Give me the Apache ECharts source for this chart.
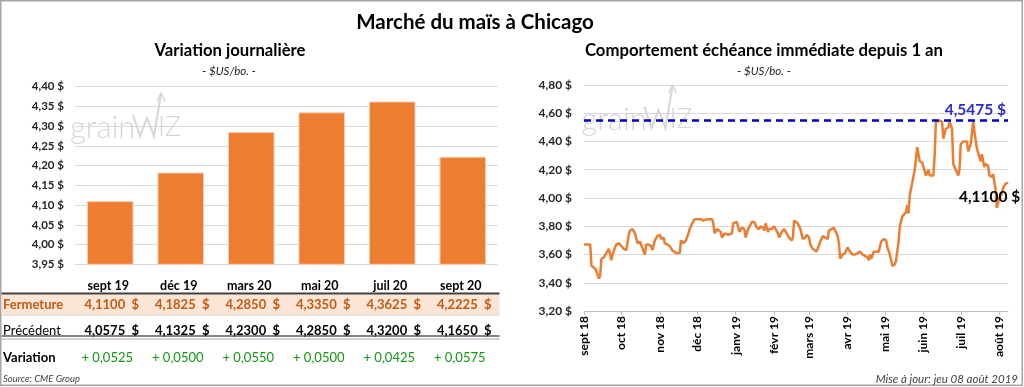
<!DOCTYPE html>
<html><head><meta charset="utf-8">
<script src="https://cdn.jsdelivr.net/npm/echarts@6/dist/echarts.min.js"></script>
<style>html,body{margin:0;padding:0;background:#fff}#c{width:1024px;height:387px}</style>
</head><body><div id="c"></div>
<script>
// ---------- DATA ----------
const contracts = ['sept 19', 'déc 19', 'mars 20', 'mai 20', 'juil 20', 'sept 20'];
const closeValues = [4.1100, 4.1825, 4.2850, 4.3350, 4.3625, 4.2225];
const previousValues = [4.0575, 4.1325, 4.2300, 4.2850, 4.3200, 4.1650];
const changeValues = [0.0525, 0.0500, 0.0550, 0.0500, 0.0425, 0.0575];
const rowLabels = ['Fermeture', 'Précédent', 'Variation'];
const barAxis = { min: 3.95, max: 4.40, interval: 0.05 };
const lineAxis = { min: 3.20, max: 4.80, interval: 0.20 };

const historyDates = [
 '2018-09-01','2018-09-06','2018-09-07','2018-09-08','2018-09-10','2018-09-11','2018-09-13','2018-09-14','2018-09-15','2018-09-17',
 '2018-09-19','2018-09-21','2018-09-22','2018-09-23','2018-09-24','2018-09-26','2018-09-27','2018-09-29','2018-10-01','2018-10-03',
 '2018-10-05','2018-10-07','2018-10-08','2018-10-10','2018-10-12','2018-10-14','2018-10-16','2018-10-17','2018-10-20','2018-10-21',
 '2018-10-23','2018-10-25','2018-10-26','2018-10-28','2018-10-30','2018-11-01','2018-11-02','2018-11-04','2018-11-05','2018-11-07',
 '2018-11-09','2018-11-11','2018-11-14','2018-11-17','2018-11-18','2018-11-20','2018-11-22','2018-11-24','2018-11-25','2018-11-27',
 '2018-11-29','2018-11-30','2018-12-02','2018-12-04','2018-12-06','2018-12-09','2018-12-11','2018-12-13','2018-12-14','2018-12-15',
 '2018-12-17','2018-12-18','2018-12-20','2018-12-21','2018-12-23','2018-12-26','2018-12-29','2018-12-30','2019-01-02','2019-01-03',
 '2019-01-04','2019-01-06','2019-01-08','2019-01-09','2019-01-11','2019-01-14','2019-01-16','2019-01-18','2019-01-20','2019-01-21',
 '2019-01-23','2019-01-24','2019-01-25','2019-01-27','2019-01-28','2019-01-30','2019-02-01','2019-02-04','2019-02-05','2019-02-07',
 '2019-02-09','2019-02-11','2019-02-13','2019-02-15','2019-02-16','2019-02-17','2019-02-18','2019-02-20','2019-02-22','2019-02-24',
 '2019-02-26','2019-02-27','2019-03-01','2019-03-02','2019-03-04','2019-03-07','2019-03-08','2019-03-10','2019-03-12','2019-03-14',
 '2019-03-16','2019-03-17','2019-03-19','2019-03-21','2019-03-22','2019-03-24','2019-03-25','2019-03-26','2019-03-28','2019-03-30',
 '2019-03-31','2019-04-01','2019-04-03','2019-04-05','2019-04-07','2019-04-08','2019-04-09','2019-04-11','2019-04-13','2019-04-15',
 '2019-04-17','2019-04-18','2019-04-19','2019-04-20','2019-04-22','2019-04-24','2019-04-26','2019-04-28','2019-04-30','2019-05-02',
 '2019-05-03','2019-05-04','2019-05-05','2019-05-07','2019-05-09','2019-05-10','2019-05-12','2019-05-13','2019-05-15','2019-05-18',
 '2019-05-19','2019-05-20','2019-05-21','2019-05-23','2019-05-25','2019-05-26','2019-05-27','2019-05-29','2019-05-31','2019-06-01',
 '2019-06-03','2019-06-05','2019-06-06','2019-06-09','2019-06-10','2019-06-11','2019-06-14','2019-06-16','2019-06-17','2019-06-19',
 '2019-06-21','2019-06-22','2019-06-24','2019-06-25','2019-06-27','2019-06-29','2019-06-30','2019-07-01','2019-07-03','2019-07-06',
 '2019-07-07','2019-07-09','2019-07-11','2019-07-12','2019-07-14','2019-07-15','2019-07-17','2019-07-18','2019-07-20','2019-07-21',
 '2019-07-23','2019-07-24','2019-07-26','2019-07-27','2019-07-29','2019-07-30','2019-08-01','2019-08-03','2019-08-04','2019-08-06',
 '2019-08-08'
];
const historyValues = [
 3.67,3.67,3.52,3.51,3.50,3.48,3.43,3.45,3.57,3.58,
 3.61,3.64,3.63,3.56,3.60,3.65,3.67,3.68,3.66,3.64,
 3.63,3.74,3.77,3.78,3.75,3.68,3.69,3.70,3.60,3.67,
 3.67,3.66,3.63,3.70,3.73,3.74,3.71,3.72,3.68,3.67,
 3.66,3.63,3.61,3.61,3.70,3.68,3.70,3.75,3.78,3.82,
 3.85,3.84,3.85,3.85,3.84,3.85,3.85,3.85,3.82,3.75,
 3.78,3.78,3.76,3.72,3.75,3.74,3.75,3.82,3.83,3.82,
 3.76,3.79,3.78,3.72,3.78,3.83,3.83,3.79,3.78,3.80,
 3.79,3.77,3.82,3.76,3.78,3.78,3.80,3.75,3.72,3.76,
 3.78,3.75,3.72,3.70,3.72,3.84,3.85,3.82,3.78,3.71,
 3.72,3.74,3.72,3.67,3.64,3.62,3.63,3.69,3.73,3.72,
 3.71,3.77,3.78,3.79,3.78,3.73,3.68,3.57,3.60,3.61,
 3.63,3.65,3.62,3.60,3.60,3.59,3.61,3.62,3.60,3.59,
 3.58,3.56,3.60,3.57,3.62,3.62,3.62,3.69,3.71,3.70,
 3.65,3.66,3.60,3.52,3.53,3.56,3.69,3.80,3.87,3.90,
 3.95,3.89,4.02,4.11,4.20,4.21,4.36,4.26,4.25,4.24,
 4.16,4.20,4.16,4.16,4.30,4.54,4.5475,4.54,4.42,4.49,
 4.50,4.54,4.49,4.24,4.20,4.16,4.20,4.38,4.40,4.40,
 4.33,4.38,4.54,4.47,4.35,4.36,4.26,4.31,4.22,4.24,
 4.23,4.16,4.15,4.17,4.06,3.93,4.00,4.03,4.07,4.10,
 4.11
];
const yearHigh = 4.5475;
const lastClose = 4.1100;
const axisStart = '2018-09-01';
const axisEnd = '2019-08-08';
const monthTickDates = ['2018-09-01','2018-10-01','2018-11-01','2018-12-01','2019-01-01','2019-02-01',
  '2019-03-01','2019-04-01','2019-05-01','2019-06-01','2019-07-01','2019-08-01'];
const monthTickLabels = ['sept 18','oct 18','nov 18','déc 18','janv 19','févr 19',
  'mars 19','avr 19','mai 19','juin 19','juil 19','août 19'];

// ---------- HELPERS ----------
const FONT = 'Lato';
const fmt2 = v => v.toFixed(2).replace('.', ',') + ' $';
const fmt4 = v => v.toFixed(4).replace('.', ',');
const ts = s => echarts.number.parseDate(s).getTime();
const monthTs = monthTickDates.map(ts);

const chart = echarts.init(document.getElementById('c'), null, { renderer: 'canvas' });

const option = {
  animation: false,
  backgroundColor: '#ffffff',
  textStyle: { fontFamily: FONT },
  grid: [
    { left: 75, right: 526, top: 86.7, bottom: 122.7 },
    { left: 584, right: 16, top: 85, bottom: 76 }
  ],
  xAxis: [
    { type: 'category', gridIndex: 0, data: contracts,
      axisLine: { show: false }, axisTick: { show: false }, axisLabel: { show: false } },
    { type: 'value', gridIndex: 1, min: ts(axisStart), max: ts(axisEnd),
      axisLine: { show: true, onZero: false, lineStyle: { color: '#bfbfbf', width: 1 } },
      axisTick: { show: true, length: 4, lineStyle: { color: '#bfbfbf' }, customValues: monthTs },
      splitLine: { show: false },
      axisLabel: { show: true, rotate: 90, margin: 5, customValues: monthTs,
        fontFamily: FONT, fontWeight: 'bold', fontSize: 12, color: '#000',
        formatter: function (val) {
          let best = 0, bd = Infinity;
          monthTs.forEach((t, i) => { const d = Math.abs(t - val); if (d < bd) { bd = d; best = i; } });
          return monthTickLabels[best];
        } } }
  ],
  yAxis: [
    { type: 'value', gridIndex: 0, min: barAxis.min, max: barAxis.max, interval: barAxis.interval,
      axisLine: { show: false }, axisTick: { show: false },
      splitLine: { lineStyle: { color: '#d9d9d9', width: 1 } },
      axisLabel: { margin: 11, fontFamily: FONT, fontWeight: 'bold', fontSize: 11.5, color: '#262626', formatter: fmt2 } },
    { type: 'value', gridIndex: 1, min: lineAxis.min, max: lineAxis.max, interval: lineAxis.interval,
      axisLine: { show: false }, axisTick: { show: false },
      splitLine: { lineStyle: { color: '#d9d9d9', width: 1 } },
      axisLabel: { margin: 12, fontFamily: FONT, fontWeight: 'bold', fontSize: 12, color: '#262626', formatter: fmt2 } }
  ],
  series: [
    { type: 'bar', xAxisIndex: 0, yAxisIndex: 0, data: closeValues, barCategoryGap: '34%',
      itemStyle: { color: '#ED7D31', borderColor: '#F8CBAD', borderWidth: 1 }, silent: true },
    { type: 'line', xAxisIndex: 1, yAxisIndex: 1,
      data: historyDates.map((d, i) => [ts(d), historyValues[i]]),
      showSymbol: false, symbol: 'none', smooth: false,
      lineStyle: { color: '#ED7D31', width: 2.5 }, itemStyle: { color: '#ED7D31' },
      endLabel: { show: true, formatter: fmt4(lastClose) + ' $', distance: 0, offset: [-49, 15],
        fontFamily: FONT, fontWeight: 'bold', fontSize: 15.5, color: '#000' },
      markLine: { silent: true, symbol: 'none', animation: false,
        data: [{ yAxis: yearHigh }],
        lineStyle: { color: '#0000CC', width: 2.5, type: [7, 5] },
        label: { show: true, position: 'insideEndTop', formatter: fmt4(yearHigh) + ' $', distance: 2,
          fontFamily: FONT, fontWeight: 'bold', fontSize: 15.5, color: '#2B2BD0' } },
      z: 3 }
  ]
};
chart.setOption(option);

// ---------- TABLE & TEXT (graphic) ----------
const xs = contracts.map((c, i) => chart.convertToPixel({ xAxisIndex: 0 }, i));
const g = [];
const txt = (x, y, text, st) => g.push({ type: 'text', x, y, silent: true,
  style: Object.assign({ text, fontFamily: FONT, fontSize: 12, fill: '#000', align: 'center', verticalAlign: 'middle' }, st) });
const line = (x1, y1, x2, y2, stroke, w) => g.push({ type: 'line', silent: true,
  shape: { x1, y1, x2, y2 }, style: { stroke, lineWidth: w } });

// frame
g.push({ type: 'rect', silent: true, shape: { x: 0.75, y: 0.75, width: 1021.5, height: 384.5 },
  style: { fill: 'none', stroke: '#a6a6a6', lineWidth: 1.5 } });

// titles
txt(475, 22, 'Marché du maïs à Chicago', { fontSize: 20.5, fontWeight: 'bold' });
txt(230, 51, 'Variation journalière', { fontSize: 16.7, fontWeight: 'bold' });
txt(229, 71, '- $US/bo. -', { fontSize: 11.5, fontStyle: 'italic', fill: '#262626' });
txt(764, 51, 'Comportement échéance immédiate depuis 1 an', { fontSize: 16.7, fontWeight: 'bold' });
txt(764, 71, '- $US/bo. -', { fontSize: 11.5, fontStyle: 'italic', fill: '#262626' });

// watermarks
[[0, 0], [511.5, -8]].forEach(([dx, dy]) => {
  txt(70 + dx, 128 + dy, 'grain', { fontSize: 31, fill: '#d6d6d6', align: 'left', fontWeight: 300 });
  txt(158 + dx, 127 + dy, 'IZ', { fontSize: 27, fill: '#d6d6d6', align: 'left', fontWeight: 300 });
  g.push({ type: 'polyline', silent: true,
    shape: { points: [[133 + dx, 115 + dy], [140 + dx, 136 + dy], [147 + dx, 118 + dy], [154 + dx, 136 + dy], [161 + dx, 94 + dy]] },
    style: { stroke: '#d6d6d6', lineWidth: 2, fill: 'none' } });
  g.push({ type: 'polyline', silent: true,
    shape: { points: [[157 + dx, 101 + dy], [161 + dx, 93 + dy], [165 + dx, 101 + dy]] },
    style: { stroke: '#d6d6d6', lineWidth: 1.5, fill: 'none' } });
});

// table
g.push({ type: 'rect', silent: true, shape: { x: 1.5, y: 294.5, width: 498, height: 20.5 }, style: { fill: '#FBE5D6' } });
line(1.5, 293.5, 499.5, 293.5, '#404040', 2);
line(1.5, 315.3, 499.5, 315.3, '#d9d9d9', 1);
line(1.5, 336, 499.5, 336, '#595959', 1.5);
line(1.5, 339, 499.5, 339, '#a6a6a6', 1);

contracts.forEach((c, i) => {
  txt(xs[i] - 2, 286, c, { fontWeight: 'bold', fontSize: 12.5 });
  txt(xs[i] + 1.5, 305, fmt4(closeValues[i]) + '  $', { fontWeight: 'bold', fontSize: 13, fill: '#C55A11' });
  txt(xs[i] + 1.5, 331, fmt4(previousValues[i]) + '  $', { fontWeight: 'bold', fontSize: 13 });
  txt(xs[i] - 3, 358, '+ ' + fmt4(changeValues[i]), { fontSize: 13, fill: '#0E9A0E' });
});
txt(3, 305, rowLabels[0], { align: 'left', fontWeight: 'bold', fontSize: 13, fill: '#C55A11' });
txt(3, 331, rowLabels[1], { align: 'left', fontSize: 13 });
txt(3, 358, rowLabels[2], { align: 'left', fontWeight: 'bold', fontSize: 13 });

txt(3, 379, 'Source: CME Group', { align: 'left', fontSize: 9.5, fontStyle: 'italic', fill: '#404040' });
txt(1018, 379, 'Mise à jour: jeu 08 août 2019', { align: 'right', fontSize: 11.5, fontStyle: 'italic', fill: '#404040' });

chart.setOption({ graphic: { elements: g } });
</script>
</body></html>
